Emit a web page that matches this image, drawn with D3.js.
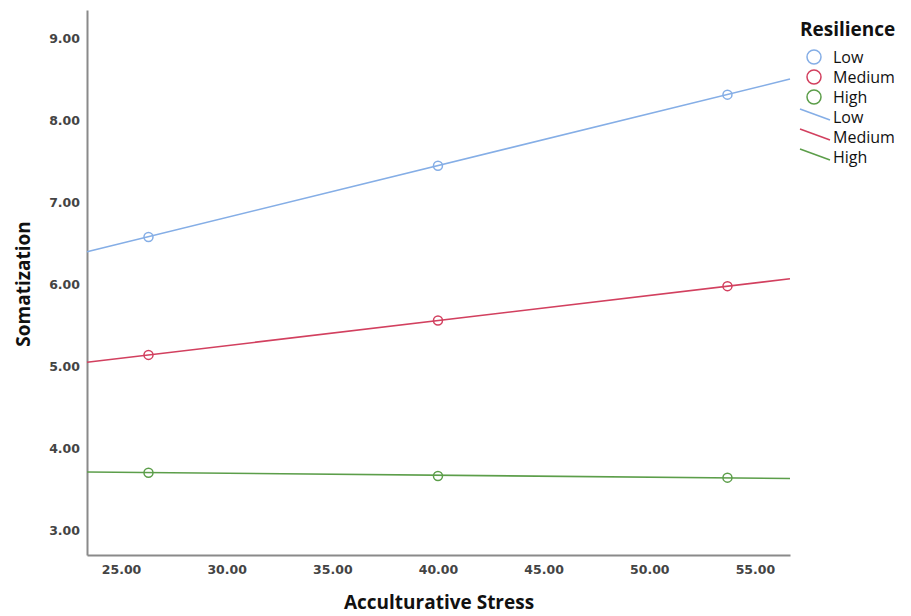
<!DOCTYPE html>
<html>
<head>
<meta charset="utf-8">
<script src="https://d3js.org/d3.v7.min.js"></script>
<style>
  body { margin: 0; background: #fff; }
  text { font-family: "DejaVu Sans", sans-serif; }
</style>
</head>
<body>
<div id="chart"></div>
<script>
// data
var groups = ["Low", "Medium", "High"];
var stressLevels = [26.3, 40.0, 53.7];
var lowMeans = [6.58, 7.45, 8.32];
var mediumMeans = [5.14, 5.56, 5.98];
var highMeans = [3.70, 3.66, 3.64];
// fit lines, drawn across the whole x range
var lineEnds = [23.39, 56.66];
var lowLine = [6.40, 8.51];
var mediumLine = [5.05, 6.07];
var highLine = [3.71, 3.63];
var xTicks = [25, 30, 35, 40, 45, 50, 55];
var yTicks = [3, 4, 5, 6, 7, 8, 9];

var colors = ["#85aee6", "#d2405f", "#5c9e4a"];
var means = [lowMeans, mediumMeans, highMeans];
var lines = [lowLine, mediumLine, highLine];

var width = 911, height = 616;
var margin = {top: 10, right: 121, bottom: 61, left: 87};

var svg = d3.select("#chart").append("svg")
    .attr("width", width)
    .attr("height", height);

var x = d3.scaleLinear().domain([23.39, 56.66]).range([margin.left, width - margin.right]);
var y = d3.scaleLinear().domain([2.695, 9.354]).range([height - margin.bottom, margin.top]);

// axes
svg.append("g")
    .attr("transform", "translate(0," + (height - margin.bottom) + ")")
    .call(d3.axisBottom(x).tickValues(xTicks).tickSize(0).tickPadding(10).tickFormat(d3.format(".2f")));
svg.append("g")
    .attr("transform", "translate(" + margin.left + ",0)")
    .call(d3.axisLeft(y).tickValues(yTicks).tickSize(0).tickPadding(7).tickFormat(d3.format(".2f")));

svg.selectAll(".domain").attr("stroke", "#8a8a8a").attr("stroke-width", 2);
svg.selectAll(".tick text")
    .style("font-size", "12.5px")
    .style("font-weight", "bold")
    .attr("fill", "#444");

// axis titles
svg.append("text")
    .attr("x", 439).attr("y", 609)
    .attr("text-anchor", "middle")
    .style("font-family", "'Open Sans', sans-serif")
    .style("font-size", "19px").style("font-weight", "bold")
    .attr("fill", "#111")
    .text("Acculturative Stress");
svg.append("text")
    .attr("transform", "translate(30,284) rotate(-90)")
    .attr("text-anchor", "middle")
    .style("font-family", "'Open Sans', sans-serif")
    .style("font-size", "19px").style("font-weight", "bold")
    .attr("fill", "#111")
    .text("Somatization");

// fit lines
var line = d3.line()
    .x(function(d) { return x(d[0]); })
    .y(function(d) { return y(d[1]); });

lines.forEach(function(vals, i) {
  svg.append("path")
    .datum(lineEnds.map(function(v, j) { return [v, vals[j]]; }))
    .attr("d", line)
    .attr("fill", "none")
    .attr("stroke", colors[i])
    .attr("stroke-width", 1.6);
});

// points
means.forEach(function(vals, i) {
  svg.append("g").selectAll("circle")
    .data(vals)
    .enter().append("circle")
      .attr("cx", function(d, j) { return x(stressLevels[j]); })
      .attr("cy", function(d) { return y(d); })
      .attr("r", 4.5)
      .attr("fill", "none")
      .attr("stroke", colors[i])
      .attr("stroke-width", 1.5);
});

// legend
var legend = svg.append("g");
legend.append("text")
    .attr("x", 800).attr("y", 36)
    .style("font-family", "'Open Sans', sans-serif")
    .style("font-size", "19px").style("font-weight", "bold")
    .attr("fill", "#111")
    .text("Resilience");

groups.forEach(function(g, i) {
  legend.append("circle")
    .attr("cx", 814).attr("cy", 57 + i * 20)
    .attr("r", 7)
    .attr("fill", "none")
    .attr("stroke", colors[i])
    .attr("stroke-width", 1.5);
  legend.append("text")
    .attr("x", 833).attr("y", 63 + i * 20)
    .style("font-family", "'Open Sans', sans-serif")
    .style("font-size", "16px")
    .attr("fill", "#111")
    .text(g);
});
groups.forEach(function(g, i) {
  legend.append("line")
    .attr("x1", 800).attr("y1", 109 + i * 20)
    .attr("x2", 830).attr("y2", 120 + i * 20)
    .attr("stroke", colors[i])
    .attr("stroke-width", 1.6);
  legend.append("text")
    .attr("x", 833).attr("y", 123 + i * 20)
    .style("font-family", "'Open Sans', sans-serif")
    .style("font-size", "16px")
    .attr("fill", "#111")
    .text(g);
});
</script>
</body>
</html>
